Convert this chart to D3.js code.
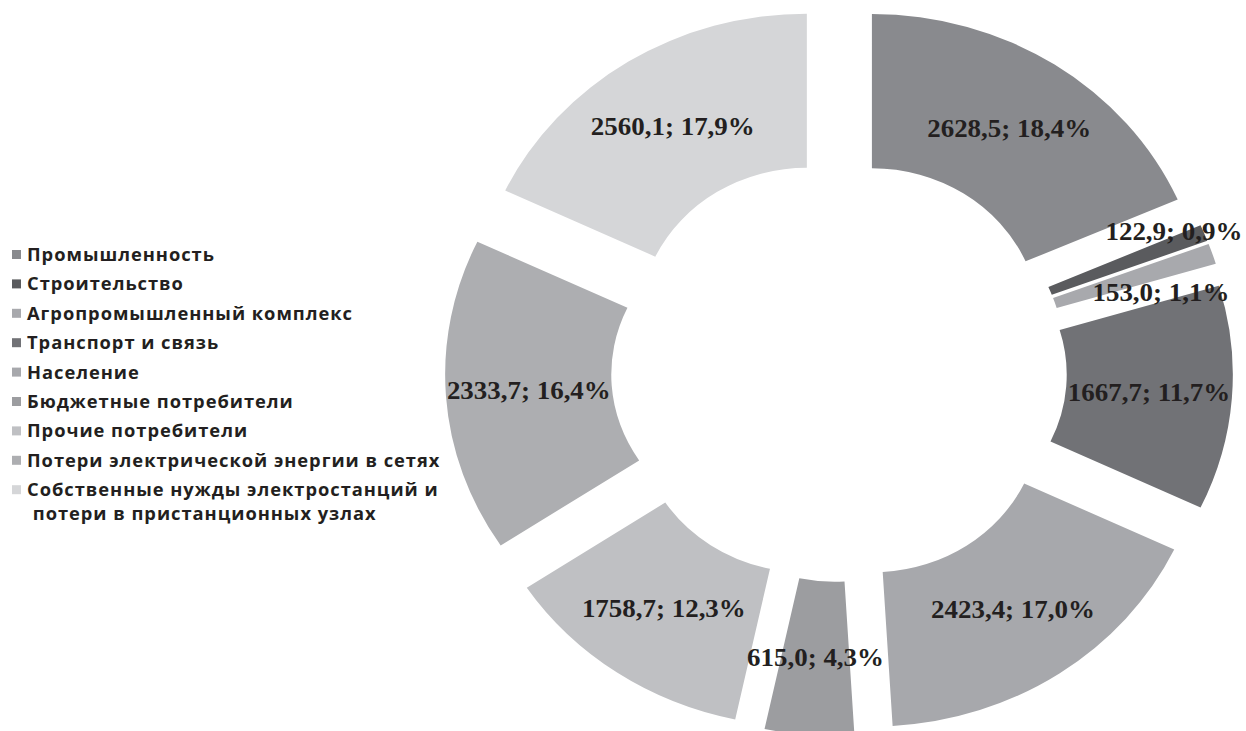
<!DOCTYPE html>
<html>
<head>
<meta charset="utf-8">
<script src="https://cdn.jsdelivr.net/npm/d3@7"></script>
<style>
html,body{margin:0;padding:0;background:#fff;}
svg{display:block;}
</style>
</head>
<body>
<svg id="chart" width="1246" height="731"></svg>
<script>
// ---- data ----
const categories = [
  "Промышленность",
  "Строительство",
  "Агропромышленный комплекс",
  "Транспорт и связь",
  "Население",
  "Бюджетные потребители",
  "Прочие потребители",
  "Потери электрической энергии в сетях",
  "Собственные нужды электростанций и потери в пристанционных узлах"
];
const values = [2628.5, 122.9, 153.0, 1667.7, 2423.4, 615.0, 1758.7, 2333.7, 2560.1];
const percents = ["18,4%", "0,9%", "1,1%", "11,7%", "17,0%", "4,3%", "12,3%", "16,4%", "17,9%"];
const valueLabels = ["2628,5", "122,9", "153,0", "1667,7", "2423,4", "615,0", "1758,7", "2333,7", "2560,1"];
const colors = ["#898a8e", "#5a5b5e", "#a8a9ad", "#717276", "#a7a8ac", "#9c9da0", "#bfc0c3", "#adaeb1", "#d5d6d8"];
const legendLines = [
  ["Промышленность"],
  ["Строительство"],
  ["Агропромышленный комплекс"],
  ["Транспорт и связь"],
  ["Население"],
  ["Бюджетные потребители"],
  ["Прочие потребители"],
  ["Потери электрической энергии в сетях"],
  ["Собственные нужды электростанций и", " потери в пристанционных узлах"]
];
// manual label nudges for tiny slices (angle offset in degrees, radius factor)
const labelNudge = [[0,1],[-2,1.18],[4,1.07],[0,1],[0,1],[0,1],[0,1],[0,1],[0,1]];

// ---- layout ----
const svg = d3.select("#chart");
const cx = 839, cy = 370.5, sx = 1.078;
const outerR = 309.7, innerR = 155.6, explode = 55.8;

const pie = d3.pie().sort(null).value(d => d)(values);
const arc = d3.arc().innerRadius(innerR).outerRadius(outerR);

const g = svg.append("g").attr("transform", `translate(${cx},${cy}) scale(${sx},1)`);
g.selectAll("path").data(pie).enter().append("path")
  .attr("d", arc)
  .attr("fill", (d,i) => colors[i])
  .attr("transform", d => {
    const m = (d.startAngle + d.endAngle) / 2;
    return `translate(${explode*Math.sin(m)},${-explode*Math.cos(m)})`;
  });

// labels
const midR = (innerR + outerR) / 2 + explode;
const lg = svg.append("g");
lg.selectAll("text").data(pie).enter().append("text")
  .attr("transform", (d,i) => {
    const m = (d.startAngle + d.endAngle) / 2 + labelNudge[i][0]*Math.PI/180;
    const rr = midR * labelNudge[i][1];
    const x = cx + sx * rr * Math.sin(m);
    const y = cy - rr * Math.cos(m);
    return `translate(${x},${y}) scale(${sx},1)`;
  })
  .attr("text-anchor", "middle")
  .attr("dominant-baseline", "central")
  .style("font-family", "'Liberation Serif','Times New Roman',serif")
  .style("font-weight", "bold")
  .style("font-size", "25px")
  .attr("fill", "#231f20")
  .text((d,i) => `${valueLabels[i]}; ${percents[i]}`);

// legend
const leg = svg.append("g").attr("transform", "translate(12,255)");
const rowH = 29.4;
const items = leg.selectAll("g").data(legendLines).enter().append("g")
  .attr("transform", (d,i) => `translate(0,${i*rowH})`);
items.append("rect").attr("x", 0).attr("y", -5).attr("width", 9).attr("height", 9)
  .attr("fill", (d,i) => colors[i]);
items.each(function(lines) {
  const t = d3.select(this).append("text")
    .attr("transform", `translate(15,0) scale(${sx},1)`)
    .style("font-family", "'Open Sans', sans-serif")
    .style("font-weight", "700")
    .style("font-size", "17px")
    .style("letter-spacing", "0.9px")
    .attr("fill", "#231f20");
  lines.forEach((ln, j) => {
    t.append("tspan").attr("x", 0).attr("y", 6 + j*23.5).attr("xml:space","preserve").text(ln);
  });
});
</script>
</body>
</html>
